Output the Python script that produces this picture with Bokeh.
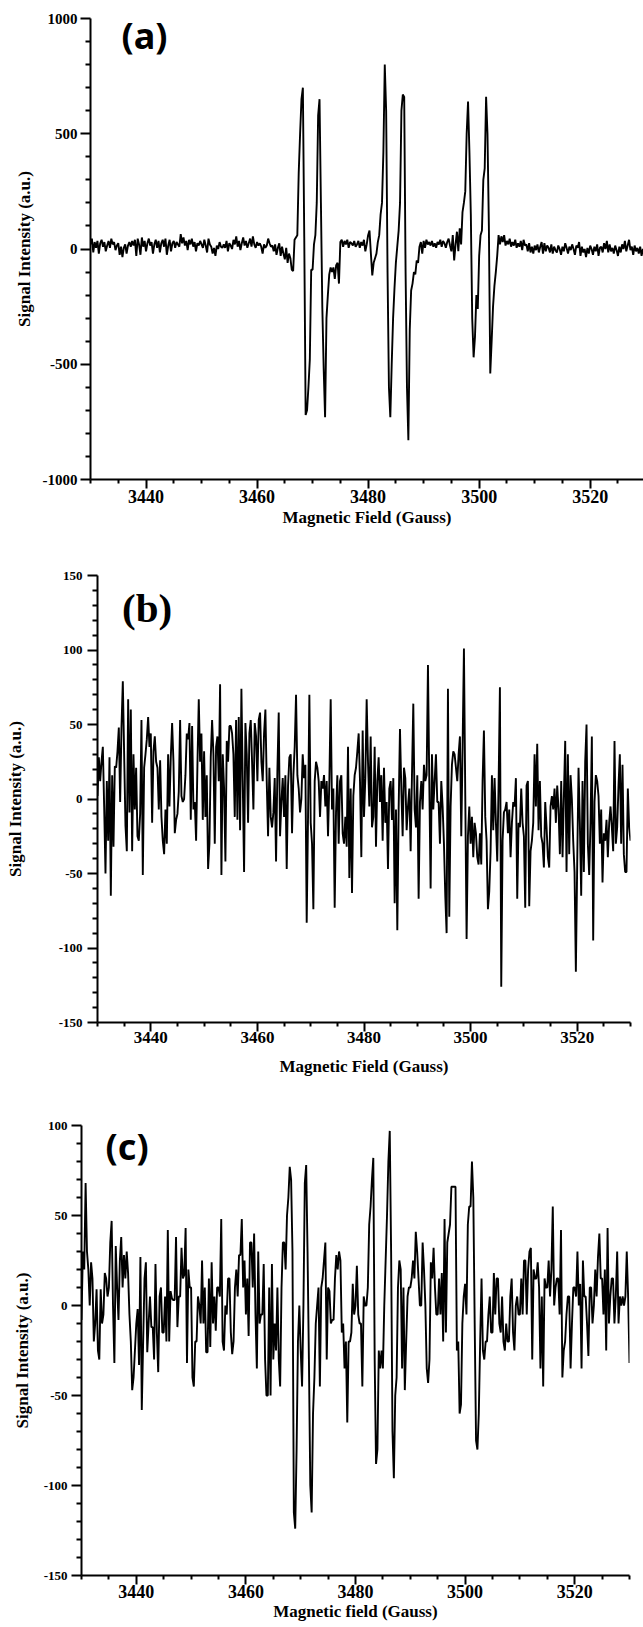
import numpy as np
from bokeh.plotting import figure
from bokeh.models import Range1d, FixedTicker, Label
from bokeh.embed import file_html
from bokeh.resources import INLINE

# ---------------- data ----------------
FIELD_START = 3430.0   # Gauss, first sample
FIELD_STEP = 0.25      # Gauss between samples

X_MAJOR = [3440, 3460, 3480, 3500, 3520]
A_YTICKS = [-1000, -500, 0, 500, 1000]
B_YTICKS = [-150, -100, -50, 0, 50, 100, 150]
C_YTICKS = [-150, -100, -50, 0, 50, 100]

X_TITLES = ["Magnetic Field (Gauss)", "Magnetic Field (Gauss)", "Magnetic field (Gauss)"]
Y_TITLE = "Signal Intensity (a.u.)"
PANEL_TAGS = ["(a)", "(b)", "(c)"]

A_INTENSITY = [
    20, 45, -15, 30,  5, 35, -20, 25,  40, 10, 30, -10,  15, 35, 5, 45,
    20, 30, -5, 15,  25, -25, 10, -35,  5, 20, -20, 15,  30, 10, 35, 15,
    40, -30, 45, 20,  -25, 50, 10, 35,  -10, 25, 45, 15,  30, -20, 20, 40,
    5, 35, -15, 25,  40, 10, 45, -25,  15, 40, -10, 25,  35, 5, 30, 20,
    10, 65, 25, 50,  15, 35, -5, 40,  20, 45, 10, 30,  -10, 25, 15, 35,
    20, 5, 40, 15,  -15, 45, 20, 10,  -20, 5, -30, 15,  0, 30, 10, 5,
    20, 5, 35, -10,  25, 15, 0, 40,  20, 55, 10, 35,  -5, 25, 50, 15,
    35, 5, 25, 45,  10, 55, 20, 5,  30, 15, 25, 10,  -20, 20, 5, 15,
    45, 25, 10, 15,  -10, 20, -25, 5,  25, -30, 10, -20,  -45, 5, -60, -20,
    -40, -90, -95, 40,  50, 60, 330, 500,  650, 700, 50, -720,  -700, -600, -480, -90,
    -90, 20, 60, 200,  580, 650, 200, -250,  -520, -730, -300, -200,  -110, -80, -100, -80,
    -130, -70, -60, -150,  30, 40, 10, 35,  20, 40, 5, 30,  25, 15, 35, 10,
    20, 35, 5, 30,  15, 40, -10, 20,  60, 80, -20, -115,  -60, -40, -20, 30,
    60, 150, 200, 420,  800, 600, -100, -600,  -730, -500, -300, -170,  -60, 10, 80, 200,
    600, 670, 660, -100,  -600, -830, -350, -180,  -150, -100, -110, -50,  -60, 10, 30, -20,
    35, 5, 40, 20,  30, 15, 35, 10,  25, 5, 30, 20,  40, 10, 35, 25,
    5, 30, 45, 15,  -10, 60, -50, 20,  75, -10, 90, 20,  160, 200, 250, 500,
    640, 420, 150, -300,  -470, -380, -200, -260,  -30, 60, 80, 300,  350, 660, 500, 100,
    -540, -400, -250, -160,  -100, -30, 60, 20,  55, 30, 60, 15,  35, 20, 45, 10,
    30, 15, 40, 5,  25, 10, 35, -5,  40, 15, 20, -10,  25, -15, 10, -20,
    15, -5, 20, -15,  10, 30, -20, 25,  -10, 15, 5, -15,  20, -20, 10, -5,
    -15, 15, 0, -25,  10, -10, 25, 5,  -20, 10, -5, 20,  0, -25, 15, 5,
    30, -30, 10, -15,  0, -35, 5, -20,  15, 0, -25, 10,  -10, 20, -30, 5,
    10, -15, 25, 0,  35, -15, 20, -10,  5, -20, 15, -5,  -30, 10, -15, 20,
    0, 35, -10, 15,  40, -5, 10, -25,  15, -10, 5, -20,  10, -30, 0, -25,
    -30,
]

B_INTENSITY = [
    2, 28, 12, 25,  35, -5, -50, 12,  -28, 28, -65, 16,  -32, 22, 21, 32,
    48, -2, 48, 79,  30, -18, -35, 67,  -9, 60, -35, 30,  -7, 21, -25, -28,
    -10, 53, -51, 21,  30, 40, 55, 35,  44, -16, 32, 42,  25, 21, -7, 26,
    -12, -28, -37, -7,  -30, 30, -5, 28,  51, 25, -23, -14,  -10, 5, 53, 2,
    -2, 0, 16, 44,  40, 51, -14, 49,  -7, -2, -28, 23,  67, 25, 44, -14,
    32, -12, 16, -47,  -30, 28, 53, 30,  -30, 35, 42, 12,  77, -51, 30, 7,
    -42, 39, 25, 49,  49, 44, 30, -12,  53, -14, 55, -21,  74, 12, -49, 51,
    30, -16, 44, 53,  25, -7, 51, 42,  12, 53, 58, 25,  12, 44, 60, 12,
    -25, 21, -12, -19,  -9, 14, -42, 19,  58, -25, -2, 14,  -12, 16, -47, 9,
    28, 30, -23, 16,  35, 70, 16, 7,  -9, 0, 30, 14,  23, -83, -12, 70,
    -16, -30, -74, 12,  25, 21, 12, -12,  12, 7, 16, -5,  12, -25, 12, 67,
    -7, 7, -73, -9,  16, -30, 12, 16,  -23, -30, -12, -32,  35, -53, 7, -63,
    2, 16, 21, 32,  44, 12, -39, 46,  -12, 14, 67, 25,  -5, 42, -19, -12,
    35, -32, 12, 28,  -2, 16, -28, 21,  -16, -2, -47, 7,  12, -14, 14, -70,
    -7, -88, -7, 47,  7, -25, 21, 14,  -21, -5, 7, -35,  16, 64, -7, -19,
    16, -67, -2, 12,  -7, 23, 12, 16,  90, 12, -60, 30,  -7, 12, 30, -2,
    -2, -30, 12, -5,  -30, -65, -90, 74,  -79, -5, 23, 32,  30, 21, 12, 30,
    42, -25, 35, 101,  2, -94, -25, -5,  -30, -12, -39, -16,  -23, -39, -44, -23,
    -44, 12, 46, -12,  -28, -74, -62, -35,  16, -21, 14, -16,  -42, 9, 75, -126,
    -28, -9, -7, -2,  -23, -7, -39, -16,  -2, -5, 14, -67,  -16, -19, 7, -16,
    -25, -73, 9, 12,  -72, -35, -28, -16,  30, -5, 37, -21,  12, -25, -30, -46,
    -2, -19, -39, -46,  -5, 2, -7, 7,  -16, 9, -7, -37,  12, -39, 2, 39,
    -49, 30, -37, 16,  0, -28, -49, -116,  -44, 21, -16, -65,  12, -49, 25, 50,
    -30, -51, -16, 42,  -95, -2, 16, 12,  2, -30, -7, -56,  -23, -28, -14, -39,
    -16, -5, -19, -35,  39, -30, -19, 9,  30, -30, 23, -37,  -49, -49, 7, -19,
    -28,
]

C_INTENSITY = [
    -8, 30, 20, 68,  30, 20, 0, 24,  15, -20, -10, 9,  -25, -30, 9, -10,
    -5, 18, 15, 5,  10, 35, 47, 0,  -32, 33, 10, -8,  25, 38, 10, 28,
    15, 30, 18, -5,  -20, -47, -40, -25,  -10, -2, -33, 27,  -58, -20, 15, 24,
    -26, -10, 5, -12,  -12, -30, 23, -15,  -37, 5, 10, -15,  -15, 5, -20, 42,
    -20, 8, 4, 3,  3, 38, -12, 5,  5, 32, 15, 17,  43, -32, 20, 10,
    10, -40, -45, -20,  -20, 5, 0, -10,  25, -10, 10, -26,  -26, 15, -23, 24,
    -10, 5, -14, 10,  10, 5, 48, -20,  -25, 0, -5, 15,  15, -15, -27, -20,
    10, 20, 5, 28,  28, 48, 10, 25,  -5, 15, -17, 35,  35, 10, 40, -5,
    -35, 30, -10, -5,  -5, 23, -30, -50,  -50, 10, -50, 23,  -30, -10, -25, 10,
    -30, -45, 10, 35,  35, 20, 50, 60,  77, 70, 30, -115,  -124, -80, -20, 0,
    -25, -45, 0, 68,  78, 30, -30, -100,  -115, -60, -40, -10,  0, 10, -45, 10,
    15, 25, 35, -30,  10, 8, -10, -8,  -8, 15, 28, 20,  30, 25, -15, -10,
    -35, -20, -65, -20,  -20, -15, 12, -5,  0, 22, -5, -10,  -10, -45, 5, 0,
    0, 10, 45, 55,  70, 82, -30, -88,  -80, -25, -35, -25,  -35, 0, 25, 50,
    80, 97, 30, -70,  -96, -50, -40, 10,  25, 20, -35, 10,  -47, -20, 5, 10,
    10, 15, 25, 15,  41, 30, 15, 0,  0, 35, 20, 0,  -35, -43, -30, 24,
    15, 32, 10, -5,  -5, 15, -5, 18,  -20, 48, -15, 35,  40, 45, 66, 66,
    66, 66, -25, -20,  -60, -55, -10, 5,  12, -5, 45, 55,  55, 80, 60, -10,
    -75, -80, -60, -20,  15, -25, -30, -20,  -20, -5, 5, -15,  -15, 18, -5, 15,
    15, -10, -15, 5,  -20, -25, -10, -20,  -20, 5, 15, -15,  -25, 0, 5, -5,
    -5, 15, -5, 25,  25, -5, 20, 30,  32, -30, 20, 15,  15, 24, 10, -35,
    5, -45, 15, 10,  10, 25, 5, 20,  55, 0, 10, 15,  15, -5, 42, -40,
    -25, -20, -5, 5,  5, -35, -10, 10,  10, 5, 30, 0,  12, -35, 25, 5,
    5, -10, -28, 10,  10, -10, 0, 20,  5, 27, 40, 15,  15, -5, 20, -25,
    43, -10, 5, 15,  15, -10, 5, 30,  -10, 5, 0, 5,  0, 5, 30, 5,
    -32,
]

SERIF = "Liberation Serif"


def field_axis(n):
    return FIELD_START + FIELD_STEP * np.arange(n)


def make_panel(h, borders, x_end, y_lo, y_hi, yticks, yminor, intensity,
               xtitle, ylabel_px, xlabel_px, title_px, ylab_standoff, ylab_title_standoff,
               xlab_standoff, xtitle_standoff):
    left, right, top, bottom = borders
    p = figure(width=643, height=h, x_range=Range1d(3430, x_end), y_range=Range1d(y_lo, y_hi),
               output_backend="svg", toolbar_location=None,
               min_border_left=left, min_border_right=right,
               min_border_top=top, min_border_bottom=bottom)
    p.outline_line_color = None
    p.xgrid.visible = False
    p.ygrid.visible = False
    p.background_fill_color = "white"
    p.border_fill_color = "white"

    p.line(field_axis(len(intensity)), intensity, line_color="black", line_width=1.9)

    xminor = [v for v in range(3430, 3531, 5) if v not in X_MAJOR]
    p.xaxis.ticker = FixedTicker(ticks=X_MAJOR, minor_ticks=xminor)
    p.yaxis.ticker = FixedTicker(ticks=yticks, minor_ticks=yminor)

    for ax in (p.xaxis[0], p.yaxis[0]):
        ax.axis_line_width = 2
        ax.axis_line_color = "black"
        ax.major_tick_line_width = 2
        ax.minor_tick_line_width = 2
        ax.major_tick_line_color = "black"
        ax.minor_tick_line_color = "black"
        ax.major_tick_in = 0
        ax.minor_tick_in = 0
        ax.major_label_text_font = SERIF
        ax.major_label_text_font_style = "bold"
        ax.major_label_text_color = "black"
        ax.axis_label_text_font = SERIF
        ax.axis_label_text_font_style = "bold"
        ax.axis_label_text_color = "black"
        ax.axis_label_text_font_size = f"{title_px}px"

    xa = p.xaxis[0]
    xa.major_tick_out = 9
    xa.minor_tick_out = 4
    xa.major_label_text_font_size = f"{xlabel_px}px"
    xa.major_label_standoff = xlab_standoff
    xa.axis_label = xtitle
    xa.axis_label_standoff = xtitle_standoff

    ya = p.yaxis[0]
    ya.major_tick_out = 10
    ya.minor_tick_out = 5
    ya.major_label_text_font_size = f"{ylabel_px}px"
    ya.major_label_standoff = ylab_standoff
    ya.major_label_overrides = {v: str(v) for v in yticks}
    ya.axis_label = Y_TITLE
    ya.axis_label_standoff = ylab_title_standoff
    return p


# panel (a)
pa = make_panel(545, (90, 0, 18, 66), 3529.6, -1000, 1000, A_YTICKS,
                [v for v in range(-1000, 1001, 100) if v not in A_YTICKS],
                A_INTENSITY, X_TITLES[0], 15, 18, 17, 3, 6, 1, 2)
pa.add_layout(Label(x=3435.6, y=927, text=PANEL_TAGS[0], text_font="Noto Sans",
                    text_font_style="bold", text_font_size="36px", text_color="black",
                    text_baseline="alphabetic", text_align="left"))

# panel (b)
pb = make_panel(545, (97, 13, 30, 68), 3530, -150, 150, B_YTICKS,
                [v for v in range(-150, 151, 10) if v not in B_YTICKS],
                B_INTENSITY, X_TITLES[1], 13, 17, 17, 5, 31, 0, 11)
pb.add_layout(Label(x=3434.6, y=128.5, text=PANEL_TAGS[1], text_font=SERIF,
                    text_font_style="bold", text_font_size="41px", text_color="black",
                    text_baseline="alphabetic", text_align="left"))

# panel (c)
pc = make_panel(537, (81, 14, 35, 52), 3530, -150, 100, C_YTICKS,
                [v for v in range(-150, 101, 10) if v not in C_YTICKS],
                C_INTENSITY, X_TITLES[2], 13, 18, 17, 4, 9, 0, 1)
pc.add_layout(Label(x=3434.4, y=88.5, text=PANEL_TAGS[2], text_font="Noto Sans",
                    text_font_style="bold", text_font_size="36px", text_color="black",
                    text_baseline="alphabetic", text_align="left"))

# three independent roots, stacked by the page (keeps each panel's own frame)
html = file_html([pa, pb, pc], INLINE)
html = html.replace("<head>", "<head><style>html,body{margin:0;padding:0;} body > div{display:block !important;}</style>", 1)
open("out.html", "w").write(html)
